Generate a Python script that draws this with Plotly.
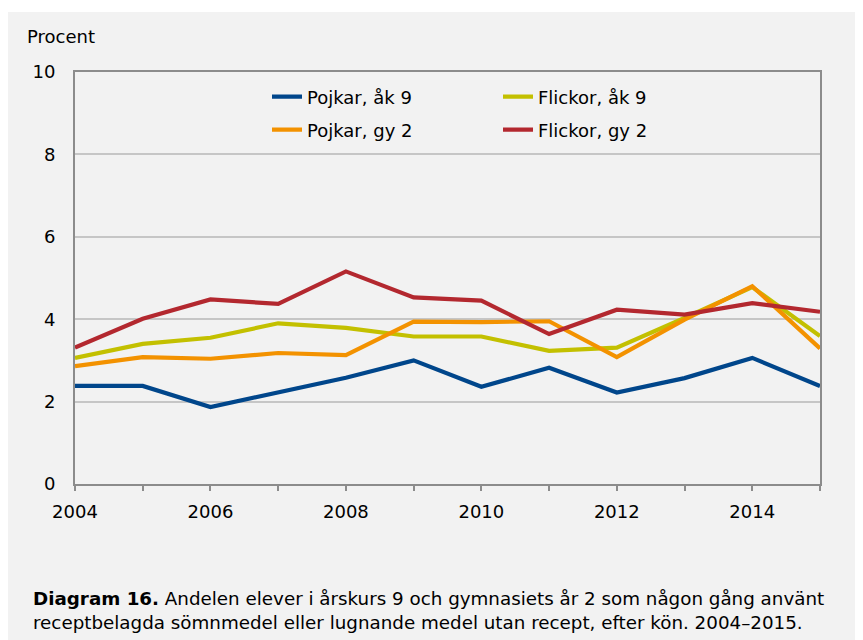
import plotly.graph_objects as go

years = list(range(2004, 2016))
pojkar_ak9 = [2.38, 2.38, 1.87, 2.22, 2.58, 3.00, 2.36, 2.82, 2.22, 2.57, 3.06, 2.38]
flickor_ak9 = [3.06, 3.40, 3.55, 3.90, 3.79, 3.58, 3.58, 3.23, 3.31, 4.03, 4.78, 3.59]
pojkar_gy2 = [2.86, 3.08, 3.04, 3.18, 3.13, 3.94, 3.93, 3.95, 3.08, 3.99, 4.80, 3.29]
flickor_gy2 = [3.31, 4.01, 4.48, 4.37, 5.16, 4.53, 4.45, 3.64, 4.23, 4.11, 4.39, 4.18]
y_ticks = [0, 2, 4, 6, 8, 10]
x_label_years = [2004, 2006, 2008, 2010, 2012, 2014]

FONT = "DejaVu Sans, Liberation Sans, Arial, sans-serif"
FS = 18
series = [
    ("Pojkar, åk 9", pojkar_ak9, "#00468b", "legend"),
    ("Flickor, åk 9", flickor_ak9, "#c3c000", "legend"),
    ("Pojkar, gy 2", pojkar_gy2, "#f39200", "legend2"),
    ("Flickor, gy 2", flickor_gy2, "#b3282f", "legend2"),
]

fig = go.Figure()
for name, vals, col, leg in series:
    fig.add_trace(go.Scatter(x=years, y=vals, mode="lines", name=name,
                             line=dict(color=col, width=4.2), legend=leg))

# figure pixel frame (page offset 8px): plot area x 67..812, y 64..476
W, H = 855, 632
L, R, T, B = 67, 812, 64, 476
pw, ph = R - L, B - T

def px(x):
    return (x - L) / pw

def py(y):
    return (B - y) / ph

leg_common = dict(orientation="h", xanchor="left", yanchor="middle",
                  entrywidth=186, entrywidthmode="pixels", bgcolor="rgba(0,0,0,0)",
                  font=dict(family=FONT, size=FS, color="#000000"), tracegroupgap=0)

fig.update_layout(
    width=W, height=H,
    margin=dict(l=L, r=W - R, t=T, b=H - B, pad=0),
    paper_bgcolor="white",
    plot_bgcolor="white",
    font=dict(family=FONT, size=FS, color="#000000"),
    showlegend=True,
    legend=dict(x=px(259), y=py(89), **leg_common),
    legend2=dict(x=px(259), y=py(122), **leg_common),
    xaxis=dict(range=[2004, 2015], tickvals=years,
               ticktext=[str(y) if y in x_label_years else "" for y in years],
               ticks="outside", ticklen=5, tickwidth=1.5, tickcolor="#8c8c8c",
               showline=True, linecolor="#8c8c8c", linewidth=2, mirror=True,
               showgrid=False, zeroline=False, ticklabelstandoff=5,
               tickfont=dict(family=FONT, size=FS, color="#000000")),
    yaxis=dict(range=[0, 10], tickvals=y_ticks, ticks="",
               showline=True, linecolor="#8c8c8c", linewidth=2, mirror=True,
               showgrid=True, gridcolor="#c6c6c6", gridwidth=1.5, zeroline=False,
               ticklabelstandoff=14,
               tickfont=dict(family=FONT, size=FS, color="#000000")),
    shapes=[dict(type="rect", xref="paper", yref="paper", layer="below",
                 x0=px(0), x1=px(W), y0=py(H), y1=py(4),
                 fillcolor="#f2f2f2", line=dict(width=0))],
    annotations=[
        dict(text="Procent", xref="paper", yref="paper", x=px(17), y=py(29),
             xanchor="left", yanchor="middle", showarrow=False,
             font=dict(family=FONT, size=FS, color="#000000")),
        dict(text="<b>Diagram 16.</b> Andelen elever i årskurs 9 och gymnasiets år 2 som någon gång använt<br>"
                  "receptbelagda sömnmedel eller lugnande medel utan recept, efter kön. 2004–2015.",
             xref="paper", yref="paper", x=px(23), y=py(602), xanchor="left", yanchor="middle",
             align="left", showarrow=False,
             font=dict(family=FONT, size=18.3, color="#000000")),
    ],
)

fig.write_html("out.html")
